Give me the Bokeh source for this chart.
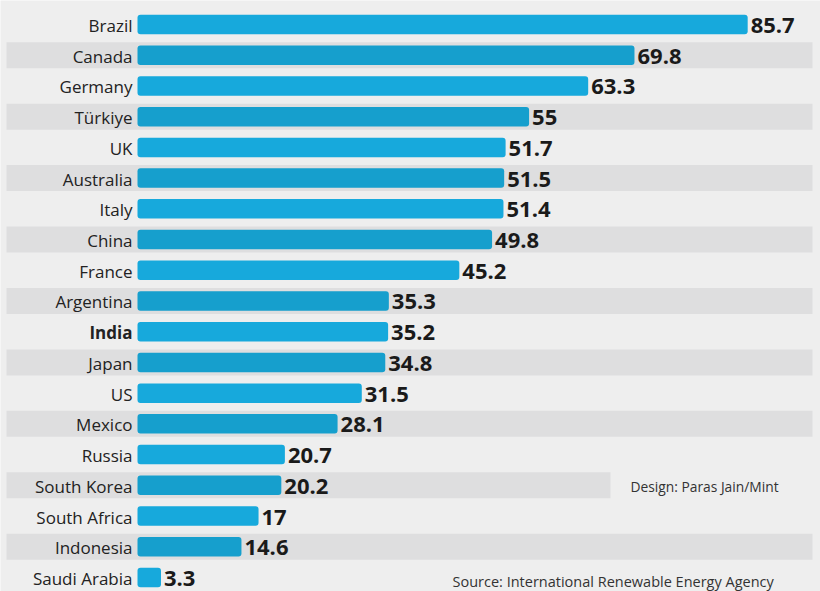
from bokeh.plotting import figure
from bokeh.models import ColumnDataSource, Range1d, Label
from bokeh.core.properties import value
from bokeh.embed import file_html
from bokeh.resources import INLINE

countries = ["Brazil", "Canada", "Germany", "Türkiye", "UK", "Australia", "Italy", "China",
             "France", "Argentina", "India", "Japan", "US", "Mexico", "Russia", "South Korea",
             "South Africa", "Indonesia", "Saudi Arabia"]
shares = [85.7, 69.8, 63.3, 55, 51.7, 51.5, 51.4, 49.8, 45.2, 35.3, 35.2, 34.8, 31.5, 28.1,
          20.7, 20.2, 17, 14.6, 3.3]
value_labels = ["85.7", "69.8", "63.3", "55", "51.7", "51.5", "51.4", "49.8", "45.2", "35.3",
                "35.2", "34.8", "31.5", "28.1", "20.7", "20.2", "17", "14.6", "3.3"]
design_credit = "Design: Paras Jain/Mint"
source_note = "Source: International Renewable Energy Agency"

W, H = 820, 591
PX_PER_UNIT = 7.12
X0 = 137          # pixel of value 0
ROW0 = 24         # pixel centre of first row
PITCH = 30.72

n = len(countries)
idx = list(range(n))
bar_col = ["#17a9dc" if i % 2 == 0 else "#169fcd" for i in idx]
label_font = ["bold" if c == "India" else "normal" for c in countries]

src = ColumnDataSource(dict(y=idx, v=shares, c=countries, t=value_labels,
                            col=bar_col, fs=label_font))

p = figure(width=W, height=H, output_backend="svg", toolbar_location=None,
           x_range=Range1d(-X0 / PX_PER_UNIT, (W - X0) / PX_PER_UNIT),
           y_range=Range1d((H - ROW0) / PITCH, -ROW0 / PITCH),
           min_border=0, background_fill_color="#eeeeee", border_fill_color="#eeeeee")
p.axis.visible = False
p.grid.visible = False
p.outline_line_color = None

# alternating row bands
band_y = [i for i in idx if i % 2 == 1]
band_left = [(6 - X0) / PX_PER_UNIT] * len(band_y)
band_right = [((610 if countries[i] == "South Korea" else 812) - X0) / PX_PER_UNIT for i in band_y]
p.hbar(y=band_y, left=band_left, right=band_right, height=26 / PITCH,
       color="#dededf", line_color=None)

p.hbar(y="y", left=0, right="v", height=19.5 / PITCH, source=src,
       fill_color="col", line_color=None, border_radius=3)

p.text(x=0, y="y", text="c", source=src, x_offset=-5, y_offset=1, text_align="right",
       text_baseline="middle", text_font=value("Open Sans"), text_font_size="17px",
       text_font_style="fs", text_color="#222222")

p.text(x="v", y="y", text="t", source=src, x_offset=3, y_offset=1, text_align="left",
       text_baseline="middle", text_font=value("Open Sans"), text_font_size="22px",
       text_font_style="bold", text_color="#1a1a1a")

p.add_layout(Label(x=630, y=H - 486, x_units="screen", y_units="screen", text=design_credit,
                   text_font="Open Sans", text_font_size="13.8px", text_color="#333333",
                   text_baseline="middle"))
p.add_layout(Label(x=452, y=1, x_units="screen", y_units="screen", text=source_note,
                   text_font="Open Sans", text_font_size="14.5px", text_color="#333333",
                   text_baseline="bottom"))

open("out.html", "w").write(file_html(p, INLINE))
